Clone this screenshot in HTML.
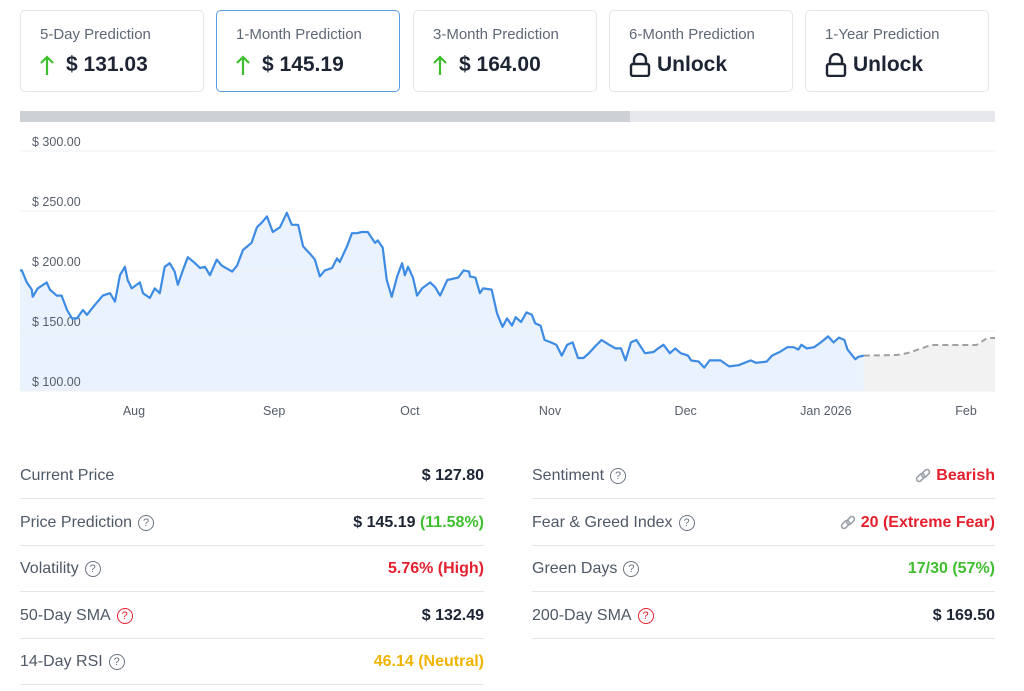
<!DOCTYPE html>
<html><head><meta charset="utf-8"><style>
*{box-sizing:border-box;margin:0;padding:0}
body{width:1024px;height:691px;background:#fff;font-family:"Liberation Sans",sans-serif;position:relative;overflow:hidden;color:#1d2433}
.card{position:absolute;top:10px;width:184px;height:82px;border:1px solid #e3e5e8;border-radius:5px;background:#fff}
.card.sel{border-color:#5a9be6}
.card .t{position:absolute;left:19px;top:15px;font-size:15px;color:#5f6875}
.card .v{position:absolute;left:19px;top:42px;font-size:21px;font-weight:bold;color:#1d2433;display:flex;align-items:center;gap:6px}
.arrow{margin-right:6px;display:inline-block}
.row{position:absolute;height:46px;border-bottom:1px solid #e3e5e8;display:flex;justify-content:space-between;align-items:center;font-size:16px}
.row .l{color:#4f5866;display:flex;align-items:center;gap:6px}
.row .r{font-weight:bold;color:#1d2433;display:flex;align-items:center}
.q{display:inline-block;width:16px;height:16px;border:1.3px solid #6b7380;border-radius:50%;font-size:11px;line-height:14px;text-align:center;color:#6b7380;font-weight:normal}
.row .q.red{border-color:#e5202e;color:#e5202e}
.row .red{color:#e5202e}.row .green{color:#3fbf2f}.row .yel{color:#f0b400}
.link{margin-right:5px}
</style></head><body>
<div class="card" style="left:20px"><div class="t">5-Day Prediction</div><div class="v"><svg class="arrow" width="14" height="22" viewBox="0 0 14 22"><path d="M7 21V3M1 9l6-6 6 6" fill="none" stroke="#3fbf2f" stroke-width="2.2"/></svg>$ 131.03</div></div>
<div class="card sel" style="left:216px"><div class="t">1-Month Prediction</div><div class="v"><svg class="arrow" width="14" height="22" viewBox="0 0 14 22"><path d="M7 21V3M1 9l6-6 6 6" fill="none" stroke="#3fbf2f" stroke-width="2.2"/></svg>$ 145.19</div></div>
<div class="card" style="left:413px"><div class="t">3-Month Prediction</div><div class="v"><svg class="arrow" width="14" height="22" viewBox="0 0 14 22"><path d="M7 21V3M1 9l6-6 6 6" fill="none" stroke="#3fbf2f" stroke-width="2.2"/></svg>$ 164.00</div></div>
<div class="card" style="left:609px"><div class="t">6-Month Prediction</div><div class="v"><svg width="22" height="24" viewBox="0 0 22 24"><path d="M5 11V7a6 6 0 0 1 12 0v4" fill="none" stroke="#1d2433" stroke-width="2.4"/><rect x="2" y="11" width="18" height="12" rx="2" fill="none" stroke="#1d2433" stroke-width="2.4"/></svg>Unlock</div></div>
<div class="card" style="left:805px"><div class="t">1-Year Prediction</div><div class="v"><svg width="22" height="24" viewBox="0 0 22 24"><path d="M5 11V7a6 6 0 0 1 12 0v4" fill="none" stroke="#1d2433" stroke-width="2.4"/><rect x="2" y="11" width="18" height="12" rx="2" fill="none" stroke="#1d2433" stroke-width="2.4"/></svg>Unlock</div></div>

<div style="position:absolute;left:20px;top:111px;width:975px;height:11px;background:#e6e8ec"><div style="width:610px;height:11px;background:#cdd0d5"></div></div>

<svg id="chart" style="position:absolute;left:0;top:0" width="1024" height="430"></svg>

<div class="row" style="left:20px;top:453px;width:464px"><span class="l">Current Price</span><span class="r">$ 127.80</span></div>
<div class="row" style="left:20px;top:500px;width:464px"><span class="l">Price Prediction <span class="q">?</span></span><span class="r">$ 145.19&nbsp;<span class="green">(11.58%)</span></span></div>
<div class="row" style="left:20px;top:546px;width:464px"><span class="l">Volatility <span class="q">?</span></span><span class="r red">5.76% (High)</span></div>
<div class="row" style="left:20px;top:593px;width:464px"><span class="l">50-Day SMA <span class="q red">?</span></span><span class="r">$ 132.49</span></div>
<div class="row" style="left:20px;top:639px;width:464px"><span class="l">14-Day RSI <span class="q">?</span></span><span class="r yel">46.14 (Neutral)</span></div>

<div class="row" style="left:532px;top:453px;width:463px"><span class="l">Sentiment <span class="q">?</span></span><span class="r red"><svg class="link" width="16" height="16" viewBox="0 0 16 16"><g fill="none" stroke="#9aa0a8" stroke-width="1.6"><rect x="1" y="7" width="9" height="5" rx="2.5" transform="rotate(-45 5.5 9.5)"/><rect x="6" y="3" width="9" height="5" rx="2.5" transform="rotate(-45 10.5 5.5)"/></g></svg>Bearish</span></div>
<div class="row" style="left:532px;top:500px;width:463px"><span class="l">Fear &amp; Greed Index <span class="q">?</span></span><span class="r red"><svg class="link" width="16" height="16" viewBox="0 0 16 16"><g fill="none" stroke="#9aa0a8" stroke-width="1.6"><rect x="1" y="7" width="9" height="5" rx="2.5" transform="rotate(-45 5.5 9.5)"/><rect x="6" y="3" width="9" height="5" rx="2.5" transform="rotate(-45 10.5 5.5)"/></g></svg>20 (Extreme Fear)</span></div>
<div class="row" style="left:532px;top:546px;width:463px"><span class="l">Green Days <span class="q">?</span></span><span class="r green">17/30 (57%)</span></div>
<div class="row" style="left:532px;top:593px;width:463px"><span class="l">200-Day SMA <span class="q red">?</span></span><span class="r">$ 169.50</span></div>

<script>
const days=[6.2,7.3,8.4,8.6,9.7,11.7,12.4,13.9,15,16.2,17.3,18.4,19.7,20.6,22.3,24.1,25.7,26.8,27.9,29,29.6,30.5,32.3,33,34.5,35.6,36.7,37.8,38.9,40,40.7,41.8,42.9,44.5,45.6,46.7,47.8,49.3,50.4,52.7,53.8,55.1,57,58.2,59.3,60.4,61.7,63.3,64.8,65.9,67.3,68.4,69.9,71,72.1,73.2,74.8,75.9,76.5,78.1,79.2,80.3,81.4,82.7,84.3,84.9,86,86.9,88,89.2,90.3,90.9,91.6,92.7,93.6,94.7,96.5,97.6,98.7,99.8,100.3,102.7,103.9,105.1,105.3,106.5,107.5,108.2,110.1,111.3,112.5,113.5,114.6,115.4,116.6,117.8,119,119.7,120.9,121.8,123.2,124.4,125.6,126.8,128,129.2,130.4,131.6,132.8,134.4,136.1,137.5,138.7,139.7,140.9,142.1,144,145.9,146.9,148.1,149.5,150.7,151.9,153.5,154.2,155.9,157.1,158.3,160.7,162.6,164.7,167.4,168.5,170.9,172.1,173.8,175.5,176.9,177.9,178.6,179.8,181.4,182.9,184.5,185.7,186.9,188.1,188.8,190.5,191.2,192.4];
const prices=[200.5,190.5,184.5,178.5,185.5,190.5,184.5,179.5,179.5,167.5,160.5,160.5,167.5,163.5,171.5,179.5,181.5,174.5,196.5,203.5,192.5,185.5,190.5,181.5,177.5,185.5,181.5,203.5,206.5,199.5,188.5,200.5,211.5,206.5,202.5,203.5,196.5,209.5,204.5,199.5,204.5,217.5,223.5,236.5,240.5,245.5,232.5,236.5,248.5,238.5,238.5,220.5,214.5,209.5,195.5,200.5,202.5,210.5,207.5,220.5,231.5,231.5,232.5,232.5,223.5,225.5,219.5,192.5,178.5,195.5,206.5,196.5,203.5,194.5,179.5,185.5,190.5,186.5,179.5,188.5,192.5,194.5,200.5,199.5,195.5,194.5,181.5,185.5,184.5,164.5,153.5,160.5,154.5,161.5,157.5,165.5,163.5,156.5,154.5,142.5,140.5,138.5,129.5,138.5,140.5,127.5,127.5,131.5,136.5,142.5,138.5,135.5,135.5,125.5,140.5,142.5,131.5,132.5,135.5,138.5,131.5,135.5,131.5,129.5,125.5,124.5,119.5,125.5,125.5,120.5,121.5,125.5,123.5,124.5,129.5,132.5,136.5,136.5,134.5,138.5,135.5,136.5,140.5,145.5,140.5,144.5,142.5,134.5,126.5,128.5,129.5];
const fcDays=[192.4,199.8,202.2,207.3,217.3,219.7,222.6];
const fcPrices=[129.5,130,131.7,138.3,138.3,144.2,144.2];
const yTicks=[100,150,200,250,300];
const monthLabels=["Aug","Sep","Oct","Nov","Dec","Jan 2026","Feb"];
const monthDays=[31,62,92,123,153,184,215];

const svg=document.getElementById('chart');const NS='http://www.w3.org/2000/svg';
const L=20,R=995,T=130,B=391;
const x=d=>-6.2+d*4.522;
const y=p=>391-(p-100)*1.2;
function mk(t,a){const e=document.createElementNS(NS,t);for(const k in a)e.setAttribute(k,a[k]);svg.appendChild(e);return e;}
const cp=mk('clipPath',{id:'cp'});const cr=document.createElementNS(NS,'rect');cr.setAttribute('x',L);cr.setAttribute('y',T);cr.setAttribute('width',R-L);cr.setAttribute('height',B-T);cp.appendChild(cr);
let area='M'+L+','+B+'L'+L+','+y(prices[0]);days.forEach((d,i)=>area+='L'+x(d)+','+y(prices[i]));area+='L'+x(days[days.length-1])+','+B+'Z';
const a=mk('path',{d:area,fill:'#eaf2fd','clip-path':'url(#cp)'});


let fa='M'+x(fcDays[0])+','+B;fcDays.forEach((d,i)=>fa+='L'+x(d)+','+y(fcPrices[i]));fa+='L'+x(fcDays[fcDays.length-1])+','+B+'Z';
const f=mk('path',{d:fa,fill:'#f2f2f2','clip-path':'url(#cp)'});


yTicks.forEach(v=>{
 const g=mk('line',{x1:L,x2:R,y1:y(v),y2:y(v),stroke:'#eef0f3','stroke-width':1});
 
 
 const t=mk('text',{x:32,y:y(v)-5,'font-size':12.5,fill:'#555d69','font-family':'Liberation Sans, sans-serif'});t.textContent='$ '+v.toFixed(2);
 
 
});
let ln='M'+L+','+y(prices[0]);days.forEach((d,i)=>ln+='L'+x(d)+','+y(prices[i]));
const l=mk('path',{d:ln,fill:'none',stroke:'#3d8be3','stroke-width':2.2,'stroke-linejoin':'round','clip-path':'url(#cp)'});


let fl='';fcDays.forEach((d,i)=>fl+=(i?'L':'M')+x(d)+','+y(fcPrices[i]));
const fc=mk('path',{d:fl,fill:'none',stroke:'#a0a0a0','stroke-width':2,'stroke-dasharray':'6,4','clip-path':'url(#cp)'});


monthLabels.forEach((m,i)=>{
 const t=mk('text',{x:x(monthDays[i]),y:415,'font-size':12.5,fill:'#555d69','text-anchor':'middle','font-family':'Liberation Sans, sans-serif'});t.textContent=m;
 
 
});
</script>
</body></html>
